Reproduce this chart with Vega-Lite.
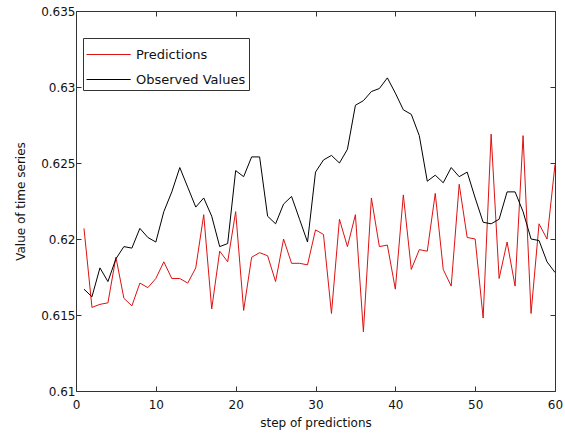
{
  "$schema": "https://vega.github.io/schema/vega-lite/v6.json",
  "width": 479,
  "height": 380,
  "autosize": "none",
  "padding": {"left": 76, "top": 11, "right": 10, "bottom": 45},
  "background": "white",
  "config": {
    "font": "DejaVu Sans",
    "view": {"stroke": "#333", "strokeWidth": 1},
    "axis": {"domain": false, "grid": false, "tickColor": "#333", "tickSize": -5, "labelColor": "#111", "labelFont": "DejaVu Sans", "labelFontSize": 12, "labelFlush": false, "labelOverlap": false, "titleFont": "DejaVu Sans", "titleFontSize": 12, "titleFontWeight": "normal", "titleColor": "#111"}
  },
  "data": {"values": [
    {"step":1,"series":"Predictions","value":0.6207},{"step":2,"series":"Predictions","value":0.6155},{"step":3,"series":"Predictions","value":0.6157},{"step":4,"series":"Predictions","value":0.6158},{"step":5,"series":"Predictions","value":0.6188},{"step":6,"series":"Predictions","value":0.6161},{"step":7,"series":"Predictions","value":0.6156},{"step":8,"series":"Predictions","value":0.6171},{"step":9,"series":"Predictions","value":0.6168},{"step":10,"series":"Predictions","value":0.6174},
    {"step":11,"series":"Predictions","value":0.6185},{"step":12,"series":"Predictions","value":0.6174},{"step":13,"series":"Predictions","value":0.6174},{"step":14,"series":"Predictions","value":0.6171},{"step":15,"series":"Predictions","value":0.6181},{"step":16,"series":"Predictions","value":0.6216},{"step":17,"series":"Predictions","value":0.6154},{"step":18,"series":"Predictions","value":0.6192},{"step":19,"series":"Predictions","value":0.6185},{"step":20,"series":"Predictions","value":0.6218},
    {"step":21,"series":"Predictions","value":0.6153},{"step":22,"series":"Predictions","value":0.6188},{"step":23,"series":"Predictions","value":0.6191},{"step":24,"series":"Predictions","value":0.6189},{"step":25,"series":"Predictions","value":0.6172},{"step":26,"series":"Predictions","value":0.62},{"step":27,"series":"Predictions","value":0.6184},{"step":28,"series":"Predictions","value":0.6184},{"step":29,"series":"Predictions","value":0.6183},{"step":30,"series":"Predictions","value":0.6206},
    {"step":31,"series":"Predictions","value":0.6203},{"step":32,"series":"Predictions","value":0.6151},{"step":33,"series":"Predictions","value":0.6213},{"step":34,"series":"Predictions","value":0.6195},{"step":35,"series":"Predictions","value":0.6216},{"step":36,"series":"Predictions","value":0.6139},{"step":37,"series":"Predictions","value":0.6227},{"step":38,"series":"Predictions","value":0.6195},{"step":39,"series":"Predictions","value":0.6196},{"step":40,"series":"Predictions","value":0.6167},
    {"step":41,"series":"Predictions","value":0.6229},{"step":42,"series":"Predictions","value":0.618},{"step":43,"series":"Predictions","value":0.6193},{"step":44,"series":"Predictions","value":0.6192},{"step":45,"series":"Predictions","value":0.623},{"step":46,"series":"Predictions","value":0.618},{"step":47,"series":"Predictions","value":0.6169},{"step":48,"series":"Predictions","value":0.6236},{"step":49,"series":"Predictions","value":0.6201},{"step":50,"series":"Predictions","value":0.62},
    {"step":51,"series":"Predictions","value":0.6148},{"step":52,"series":"Predictions","value":0.6269},{"step":53,"series":"Predictions","value":0.6174},{"step":54,"series":"Predictions","value":0.6198},{"step":55,"series":"Predictions","value":0.6169},{"step":56,"series":"Predictions","value":0.6268},{"step":57,"series":"Predictions","value":0.6151},{"step":58,"series":"Predictions","value":0.621},{"step":59,"series":"Predictions","value":0.62},{"step":60,"series":"Predictions","value":0.6249},
    {"step":1,"series":"Observed Values","value":0.6167},{"step":2,"series":"Observed Values","value":0.6162},{"step":3,"series":"Observed Values","value":0.6181},{"step":4,"series":"Observed Values","value":0.6172},{"step":5,"series":"Observed Values","value":0.6187},{"step":6,"series":"Observed Values","value":0.6195},{"step":7,"series":"Observed Values","value":0.6194},{"step":8,"series":"Observed Values","value":0.6207},{"step":9,"series":"Observed Values","value":0.6201},{"step":10,"series":"Observed Values","value":0.6198},
    {"step":11,"series":"Observed Values","value":0.6218},{"step":12,"series":"Observed Values","value":0.6231},{"step":13,"series":"Observed Values","value":0.6247},{"step":14,"series":"Observed Values","value":0.6234},{"step":15,"series":"Observed Values","value":0.6221},{"step":16,"series":"Observed Values","value":0.6227},{"step":17,"series":"Observed Values","value":0.6215},{"step":18,"series":"Observed Values","value":0.6195},{"step":19,"series":"Observed Values","value":0.6197},{"step":20,"series":"Observed Values","value":0.6245},
    {"step":21,"series":"Observed Values","value":0.6241},{"step":22,"series":"Observed Values","value":0.6254},{"step":23,"series":"Observed Values","value":0.6254},{"step":24,"series":"Observed Values","value":0.6215},{"step":25,"series":"Observed Values","value":0.621},{"step":26,"series":"Observed Values","value":0.6223},{"step":27,"series":"Observed Values","value":0.6228},{"step":28,"series":"Observed Values","value":0.6213},{"step":29,"series":"Observed Values","value":0.6198},{"step":30,"series":"Observed Values","value":0.6244},
    {"step":31,"series":"Observed Values","value":0.6252},{"step":32,"series":"Observed Values","value":0.6255},{"step":33,"series":"Observed Values","value":0.625},{"step":34,"series":"Observed Values","value":0.6259},{"step":35,"series":"Observed Values","value":0.6288},{"step":36,"series":"Observed Values","value":0.6291},{"step":37,"series":"Observed Values","value":0.6297},{"step":38,"series":"Observed Values","value":0.6299},{"step":39,"series":"Observed Values","value":0.6306},{"step":40,"series":"Observed Values","value":0.6296},
    {"step":41,"series":"Observed Values","value":0.6285},{"step":42,"series":"Observed Values","value":0.6282},{"step":43,"series":"Observed Values","value":0.6268},{"step":44,"series":"Observed Values","value":0.6238},{"step":45,"series":"Observed Values","value":0.6242},{"step":46,"series":"Observed Values","value":0.6237},{"step":47,"series":"Observed Values","value":0.6247},{"step":48,"series":"Observed Values","value":0.6241},{"step":49,"series":"Observed Values","value":0.6244},{"step":50,"series":"Observed Values","value":0.6227},
    {"step":51,"series":"Observed Values","value":0.6211},{"step":52,"series":"Observed Values","value":0.621},{"step":53,"series":"Observed Values","value":0.6213},{"step":54,"series":"Observed Values","value":0.6231},{"step":55,"series":"Observed Values","value":0.6231},{"step":56,"series":"Observed Values","value":0.6218},{"step":57,"series":"Observed Values","value":0.62},{"step":58,"series":"Observed Values","value":0.6199},{"step":59,"series":"Observed Values","value":0.6185},{"step":60,"series":"Observed Values","value":0.6178}
  ]},
  "layer": [
    {
      "mark": {"type": "line", "strokeWidth": 1},
      "encoding": {
        "x": {"field": "step", "type": "quantitative", "scale": {"domain": [0, 60], "nice": false}, "axis": {"values": [0,10,20,30,40,50,60], "title": "step of predictions", "labelPadding": 13, "titlePadding": 7}},
        "y": {"field": "value", "type": "quantitative", "scale": {"domain": [0.61, 0.635], "nice": false, "zero": false}, "axis": {"values": [0.61,0.615,0.62,0.625,0.63,0.635], "format": ".3~f", "title": "Value of time series", "labelPadding": 6, "titlePadding": 13}},
        "color": {"field": "series", "type": "nominal", "scale": {"domain": ["Predictions", "Observed Values"], "range": ["#dd1111", "#000000"]},
          "legend": {"title": null, "orient": "none", "legendX": 7, "legendY": 27, "symbolType": "M-1,0H2.4", "symbolSize": 676, "symbolStrokeWidth": 1, "strokeColor": "#333", "fillColor": "#fff", "padding": 3, "labelFont": "DejaVu Sans", "labelFontSize": 13, "labelColor": "#111", "labelOffset": 23, "rowPadding": 4}}
      }
    },
    {
      "mark": {"type": "line", "opacity": 0},
      "encoding": {
        "x": {"field": "step", "type": "quantitative", "axis": {"orient": "top", "values": [0,10,20,30,40,50,60], "labels": false, "title": null}},
        "y": {"field": "value", "type": "quantitative", "axis": {"orient": "right", "values": [0.61,0.615,0.62,0.625,0.63,0.635], "labels": false, "title": null}},
        "detail": {"field": "series"}
      }
    }
  ],
  "resolve": {"axis": {"x": "independent", "y": "independent"}}
}
